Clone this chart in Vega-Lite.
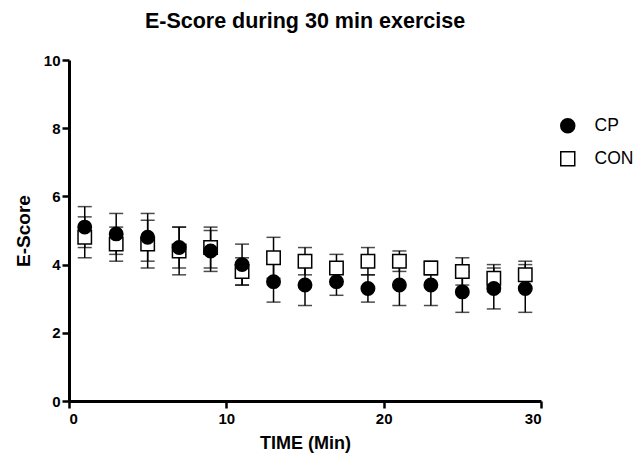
{
  "$schema": "https://vega.github.io/schema/vega-lite/v6.json",
  "width": 472,
  "height": 341,
  "autosize": "none",
  "padding": {"left": 69, "top": 60, "right": 103, "bottom": 60},
  "background": "white",
  "title": {"text": "E-Score during 30 min exercise", "font": "Liberation Sans", "fontSize": 21.5, "fontWeight": "bold", "color": "black", "offset": 21},
  "config": {
    "view": {"stroke": null},
    "axis": {"domainColor": "black", "domainWidth": 3, "tickColor": "black", "tickWidth": 2.5, "tickSize": 7, "grid": false, "labelFont": "Liberation Sans", "labelFontWeight": "bold", "labelFontSize": 15, "labelColor": "black", "titleFont": "Liberation Sans", "titleFontWeight": "bold", "titleFontSize": 18, "titleColor": "black"},
    "legend": {"orient": "none", "legendX": 490, "legendY": 57, "labelFont": "Liberation Sans", "labelFontSize": 17.5, "labelColor": "black", "symbolSize": 196, "rowPadding": 12, "labelOffset": 18, "symbolStrokeWidth": 1.5, "padding": 0}
  },
  "data": {"values": [
    {"time": 1, "group": "CP", "mean": 5.1, "lo": 4.5, "hi": 5.7},
    {"time": 3, "group": "CP", "mean": 4.9, "lo": 4.3, "hi": 5.5},
    {"time": 5, "group": "CP", "mean": 4.8, "lo": 4.1, "hi": 5.5},
    {"time": 7, "group": "CP", "mean": 4.5, "lo": 3.9, "hi": 5.1},
    {"time": 9, "group": "CP", "mean": 4.4, "lo": 3.8, "hi": 5.0},
    {"time": 11, "group": "CP", "mean": 4.0, "lo": 3.4, "hi": 4.6},
    {"time": 13, "group": "CP", "mean": 3.5, "lo": 2.9, "hi": 4.1},
    {"time": 15, "group": "CP", "mean": 3.4, "lo": 2.8, "hi": 4.0},
    {"time": 17, "group": "CP", "mean": 3.5, "lo": 3.1, "hi": 3.9},
    {"time": 19, "group": "CP", "mean": 3.3, "lo": 2.9, "hi": 3.7},
    {"time": 21, "group": "CP", "mean": 3.4, "lo": 2.8, "hi": 4.0},
    {"time": 23, "group": "CP", "mean": 3.4, "lo": 2.8, "hi": 4.0},
    {"time": 25, "group": "CP", "mean": 3.2, "lo": 2.6, "hi": 3.8},
    {"time": 27, "group": "CP", "mean": 3.3, "lo": 2.7, "hi": 3.9},
    {"time": 29, "group": "CP", "mean": 3.3, "lo": 2.6, "hi": 4.0},
    {"time": 1, "group": "CON", "mean": 4.8, "lo": 4.2, "hi": 5.4},
    {"time": 3, "group": "CON", "mean": 4.6, "lo": 4.1, "hi": 5.1},
    {"time": 5, "group": "CON", "mean": 4.6, "lo": 3.9, "hi": 5.3},
    {"time": 7, "group": "CON", "mean": 4.4, "lo": 3.7, "hi": 5.1},
    {"time": 9, "group": "CON", "mean": 4.5, "lo": 3.9, "hi": 5.1},
    {"time": 11, "group": "CON", "mean": 3.8, "lo": 3.4, "hi": 4.2},
    {"time": 13, "group": "CON", "mean": 4.2, "lo": 3.6, "hi": 4.8},
    {"time": 15, "group": "CON", "mean": 4.1, "lo": 3.7, "hi": 4.5},
    {"time": 17, "group": "CON", "mean": 3.9, "lo": 3.5, "hi": 4.3},
    {"time": 19, "group": "CON", "mean": 4.1, "lo": 3.7, "hi": 4.5},
    {"time": 21, "group": "CON", "mean": 4.1, "lo": 3.8, "hi": 4.4},
    {"time": 23, "group": "CON", "mean": 3.9, "lo": 3.7, "hi": 4.1},
    {"time": 25, "group": "CON", "mean": 3.8, "lo": 3.4, "hi": 4.2},
    {"time": 27, "group": "CON", "mean": 3.6, "lo": 3.2, "hi": 4.0},
    {"time": 29, "group": "CON", "mean": 3.7, "lo": 3.3, "hi": 4.1}
  ]},
  "encoding": {
    "x": {"field": "time", "type": "quantitative", "scale": {"domain": [0, 30], "nice": false}, "axis": {"values": [0, 10, 20, 30], "title": "TIME (Min)", "titlePadding": 8, "labelPadding": 3}}
  },
  "layer": [
    {
      "mark": {"type": "rule", "color": "black", "strokeWidth": 1.5},
      "encoding": {
        "y": {"field": "lo", "type": "quantitative", "scale": {"domain": [0, 10], "nice": false}, "axis": {"values": [0, 2, 4, 6, 8, 10], "title": "E-Score", "titleFontSize": 19, "titlePadding": 10}},
        "y2": {"field": "hi"}
      }
    },
    {
      "mark": {"type": "tick", "color": "black", "orient": "horizontal", "size": 14, "thickness": 1.5},
      "encoding": {"y": {"field": "lo", "type": "quantitative"}}
    },
    {
      "mark": {"type": "tick", "color": "black", "orient": "horizontal", "size": 14, "thickness": 1.5},
      "encoding": {"y": {"field": "hi", "type": "quantitative"}}
    },
    {
      "mark": {"type": "point", "opacity": 1, "strokeWidth": 1.5, "size": 180},
      "encoding": {
        "y": {"field": "mean", "type": "quantitative"},
        "order": {"field": "group", "sort": "ascending"},
        "shape": {"field": "group", "type": "nominal", "scale": {"domain": ["CP", "CON"], "range": ["circle", "square"]}, "legend": {"title": null}},
        "fill": {"field": "group", "type": "nominal", "scale": {"domain": ["CP", "CON"], "range": ["black", "white"]}, "legend": {"title": null}},
        "stroke": {"field": "group", "type": "nominal", "scale": {"domain": ["CP", "CON"], "range": ["black", "black"]}, "legend": {"title": null}}
      }
    }
  ]
}
